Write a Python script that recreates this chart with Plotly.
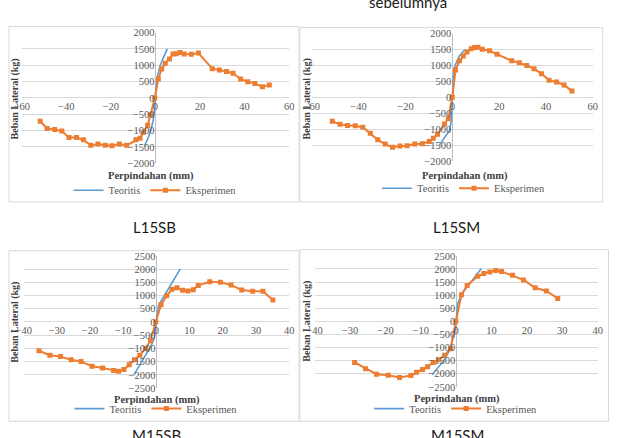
import plotly.graph_objects as go

W, H = 639, 438

# ---------------- data ----------------
# Panel A (top-left)
a_teo_x = [-5.0, -3.5, -2.0, -1.0, -0.3, 0.0, 0.3, 1.0, 2.0, 3.5, 5.3]
a_teo_y = [-1480, -1260, -980, -680, -320, 0, 380, 700, 960, 1220, 1500]
a_eks_x = [-51.7, -48.6, -45.2, -42.0, -38.8, -35.4, -32.3, -29.0, -25.8, -22.5, -19.5, -16.2, -13.0,
           -8.8, -6.9, -5.4, -3.5, -2.2, -0.3, 1.3, 2.8, 4.4, 6.3, 7.9, 9.4, 11.0, 12.9, 16.1, 19.3,
           25.5, 28.7, 31.9, 34.8, 38.2, 41.4, 44.6, 48.0, 51.1]
a_eks_y = [-716, -935, -965, -1015, -1214, -1214, -1284, -1453, -1413, -1453, -1463, -1413, -1453,
           -1284, -1234, -1055, -836, -517, 0, 577, 886, 1065, 1194, 1343, 1353, 1393, 1343, 1333, 1373,
           896, 856, 806, 756, 577, 498, 438, 338, 398]

# Panel B (top-right)
b_teo_x = [-5.6, -1.1, -0.3, 0.0, 0.5, 1.2, 3.0, 5.5]
b_teo_y = [-1510, -1030, -670, 0, 700, 1000, 1300, 1500]
b_eks_x = [-51.2, -47.9, -44.7, -41.4, -38.2, -35.0, -31.8, -28.6, -25.5, -22.3, -19.3, -16.0, -12.8,
           -9.8, -8.1, -6.3, -3.3, -1.7, 0.0, 1.4, 3.1, 4.7, 6.3, 8.1, 9.5, 10.9, 12.8, 15.9, 19.1,
           25.4, 28.6, 31.8, 34.9, 38.1, 41.3, 44.5, 47.7, 51.1]
b_eks_y = [-755, -847, -888, -898, -939, -1133, -1337, -1469, -1571, -1531, -1520, -1469, -1459,
           -1388, -1286, -1163, -837, -673, 0, 857, 1143, 1296, 1418, 1520, 1561, 1571, 1510, 1459, 1347,
           1143, 1082, 1000, 898, 735, 531, 480, 388, 194]

# Panel C (bottom-left)
c_teo_x = [-6.8, -1.6, -0.6, 0.0, 0.6, 1.6, 7.2]
c_teo_y = [-2000, -900, -600, 0, 620, 830, 2010]
c_eks_x = [-35.4, -32.1, -28.9, -25.7, -22.7, -19.4, -16.2, -12.9, -11.4, -9.8, -8.2, -6.6, -5.0,
           -3.3, -1.8, -0.2, 1.4, 3.1, 4.7, 6.2, 7.9, 9.5, 11.1, 12.6, 16.1, 19.3, 22.5, 25.7, 29.0,
           32.1, 35.1]
c_eks_y = [-1087, -1259, -1308, -1431, -1493, -1677, -1738, -1837, -1861, -1800, -1615, -1431, -1259,
           -1001, -706, 0, 655, 989, 1235, 1296, 1198, 1173, 1222, 1382, 1517, 1505, 1394, 1210, 1161,
           1161, 829]

# Panel D (bottom-right)
d_teo_x = [-6.8, -3.5, -1.7, -0.3, 0.0, 0.4, 1.5, 3.5, 7.1]
d_teo_y = [-2040, -1500, -1070, -330, 0, 660, 1030, 1400, 2020]
d_eks_x = [-28.7, -25.6, -22.5, -19.2, -16.0, -12.8, -11.2, -9.5, -8.1, -6.5, -4.9, -3.3, -1.6,
           -0.1, 1.5, 3.1, 6.1, 7.8, 9.5, 11.2, 12.8, 15.9, 19.0, 22.3, 25.5, 28.7]
d_eks_y = [-1569, -1805, -2016, -2053, -2140, -2066, -1942, -1842, -1731, -1569, -1470, -1296, -1048,
           0, 1011, 1371, 1718, 1830, 1880, 1942, 1904, 1756, 1582, 1284, 1160, 874]

series_names = ["Teoritis", "Eksperimen"]
x_titles = ["Perpindahan (mm)", "Perpindahan (mm)", "Perpindahan (mm)", "Peprindahan (mm)"]
y_title = "Beban Lateral (kg)"
captions = ["sebelumnya", "L15SB", "L15SM", "M15SB", "M15SM"]

BLUE = "#5B9BD5"
ORANGE = "#ED7D31"
GRID = "#D9D9D9"
TXT = "#595959"
SERIF = "Times New Roman, Liberation Serif, DejaVu Serif, serif"


def px(x):
    return x / W


def py(y):
    return 1 - y / H


panels = [
    dict(box=(14, 287, 28.3, 162.3), xr=60, yr=2000, dx=20, border=(1, 297, 22, 202),
         xt=(146, 175), yt=(7, 96), lg=(150, 190), teo=(a_teo_x, a_teo_y), eks=(a_eks_x, a_eks_y)),
    dict(box=(310, 597, 29.3, 160), xr=60, yr=2000, dx=20, border=(298, 607, 23, 202),
         xt=(466, 175), yt=(305, 96), lg=(465, 188), teo=(b_teo_x, b_teo_y), eks=(b_eks_x, b_eks_y)),
    dict(box=(16, 287, 257.3, 393), xr=40, yr=2500, dx=10, border=(1, 297, 252, 427),
         xt=(152, 405), yt=(7, 325), lg=(151, 414), teo=(c_teo_x, c_teo_y), eks=(c_eks_x, c_eks_y)),
    dict(box=(313, 602, 257.3, 391.7), xr=40, yr=2500, dx=10, border=(298, 613, 251, 427),
         xt=(458, 404), yt=(305, 324), lg=(457, 414), teo=(d_teo_x, d_teo_y), eks=(d_eks_x, d_eks_y)),
]

fig = go.Figure()
shapes = []
annotations = []
layout = {}

for i, p in enumerate(panels):
    n = i + 1
    sfx = "" if n == 1 else str(n)
    x0, x1, yt, yb = p["box"]
    xd = [px(x0), px(x1)]
    yd = [py(yb), py(yt)]
    lg_name = "legend" + sfx
    fig.add_trace(go.Scatter(
        x=p["teo"][0], y=p["teo"][1], mode="lines", name=series_names[0],
        line=dict(color=BLUE, width=1.6), xaxis="x" + sfx, yaxis="y" + sfx, legend=lg_name))
    fig.add_trace(go.Scatter(
        x=p["eks"][0], y=p["eks"][1], mode="lines+markers", name=series_names[1],
        line=dict(color=ORANGE, width=2), marker=dict(symbol="square", size=5, color=ORANGE),
        xaxis="x" + sfx, yaxis="y" + sfx, legend=lg_name))

    layout["xaxis" + sfx] = dict(
        domain=xd, range=[-p["xr"], p["xr"]], dtick=p["dx"], tick0=0, anchor="free",
        position=(yd[0] + yd[1]) / 2, showgrid=False, zeroline=True, zerolinecolor="#BFBFBF",
        zerolinewidth=1, showline=False, ticks="", ticklabelstandoff=1,
        tickfont=dict(family=SERIF, size=10.5, color=TXT), fixedrange=True)
    layout["yaxis" + sfx] = dict(
        domain=yd, range=[-p["yr"], p["yr"]], dtick=500, tick0=0, anchor="free",
        position=(xd[0] + xd[1]) / 2, showgrid=True, gridcolor=GRID, gridwidth=1,
        zeroline=True, zerolinecolor=GRID, zerolinewidth=1, showline=False, ticks="",
        ticklabelstandoff=1, tickfont=dict(family=SERIF, size=10.5, color=TXT), fixedrange=True)

    bx0, bx1, by0, by1 = p["border"]
    shapes.append(dict(type="rect", xref="paper", yref="paper", x0=px(bx0), x1=px(bx1),
                       y0=py(by1), y1=py(by0), line=dict(color=GRID, width=1), layer="below"))

    annotations.append(dict(text="<b>%s</b>" % x_titles[i], xref="paper", yref="paper",
                            x=px(p["xt"][0]), y=py(p["xt"][1]), showarrow=False,
                            xanchor="center", yanchor="middle",
                            font=dict(family=SERIF, size=10.5, color="#404040")))
    annotations.append(dict(text="<b>%s</b>" % y_title, xref="paper", yref="paper",
                            x=px(p["yt"][0]), y=py(p["yt"][1]), showarrow=False, textangle=-90,
                            xanchor="center", yanchor="middle",
                            font=dict(family=SERIF, size=10, color="#404040")))

    layout[lg_name] = dict(orientation="h", x=px(p["lg"][0]), y=py(p["lg"][1]),
                           xanchor="center", yanchor="middle", bgcolor="rgba(0,0,0,0)",
                           font=dict(family=SERIF, size=10.5, color=TXT),
                           itemwidth=30, tracegroupgap=0)

# captions
cap_pos = [(408, -3), (150, 228), (458, 228), (152, 441), (459, 441)]
for text, (cx, cy) in zip(captions, cap_pos):
    annotations.append(dict(text=text, xref="paper", yref="paper", x=px(cx), y=py(cy),
                            showarrow=False, xanchor="center", yanchor="middle",
                            font=dict(family="Lato", size=15, color="#1a1a1a")))

fig.update_layout(
    width=W, height=H, margin=dict(l=0, r=0, t=0, b=0, pad=0),
    paper_bgcolor="white", plot_bgcolor="rgba(0,0,0,0)",
    shapes=shapes, annotations=annotations, **layout)

fig.write_html("out.html")
